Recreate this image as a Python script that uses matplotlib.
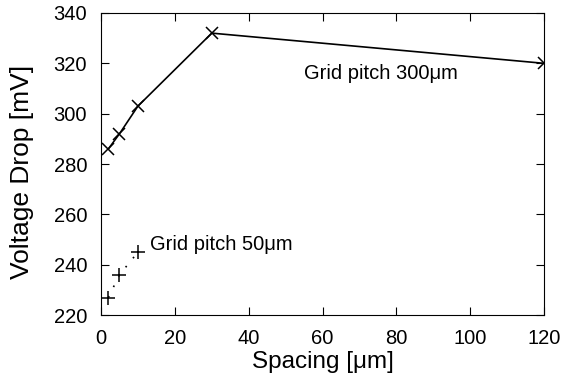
import matplotlib
matplotlib.use('Agg')
import matplotlib.pyplot as plt

plt.rcParams['font.family'] = ['Liberation Sans', 'DejaVu Sans']

spacing_300 = [2, 5, 10, 30, 120]
drop_300 = [286, 292, 303, 332, 320]
spacing_50 = [2, 5, 10]
drop_50 = [227, 236, 245]

fig, ax = plt.subplots(figsize=(5.64, 3.82), dpi=100)
fig.subplots_adjust(left=0.179, right=0.965, top=0.966, bottom=0.175)

ax.plot(spacing_300, drop_300, color='black', marker='x', markersize=9,
        linewidth=1.2, markeredgewidth=1.1)
ax.plot(spacing_50, drop_50, color='black', marker='+', markersize=10,
        linestyle=(0, (1, 6)), linewidth=1.2, markeredgewidth=1.1)

ax.text(55, 316, 'Grid pitch 300\u03bcm', fontsize=14.5, va='center')
ax.text(13.3, 248, 'Grid pitch 50\u03bcm', fontsize=14.5, va='center')

ax.set_xlim(0, 120)
ax.set_ylim(220, 340)
ax.set_xticks(range(0, 121, 20))
ax.set_yticks(range(220, 341, 20))
ax.tick_params(direction='in', top=True, right=True, labelsize=14.5,
               length=6, pad=10)
ax.set_xlabel('Spacing [\u03bcm]', fontsize=17.5, labelpad=2)
ax.set_ylabel('Voltage Drop [mV]', fontsize=19)
ax.yaxis.set_label_coords(-0.152, 0.473)

fig.savefig('out.png', dpi=100)
